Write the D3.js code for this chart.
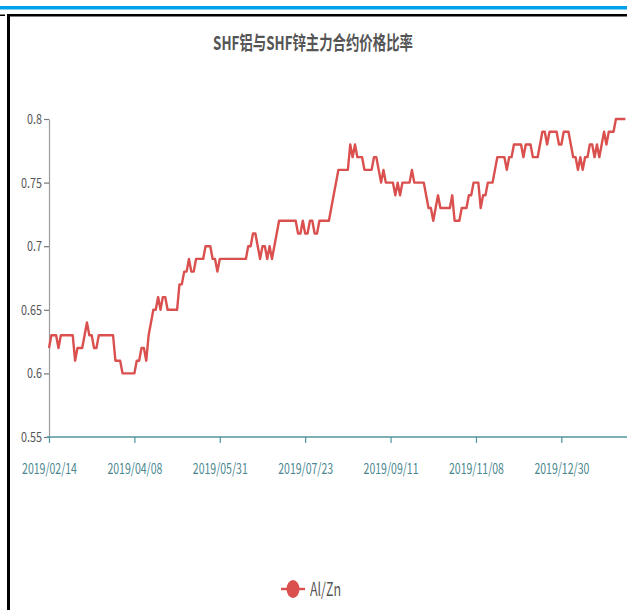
<!DOCTYPE html>
<html><head><meta charset="utf-8">
<script src="https://cdn.jsdelivr.net/npm/d3@7"></script>
<style>body{margin:0;background:#fff;} svg{display:block}</style>
</head><body>
<svg id="c" width="627" height="610"></svg>
<script>
const titleText = "SHF铝与SHF锌主力合约价格比率";
const seriesName = "Al/Zn";
const tickLabels = ["2019/02/14","2019/04/08","2019/05/31","2019/07/23","2019/09/11","2019/11/08","2019/12/30"];
const tickStep = 36;
const yTicks = [0.55,0.6,0.65,0.7,0.75,0.8];
const values = [
 0.62,0.63,0.63,0.63,0.62,0.63,0.63,0.63,0.63,0.63,
 0.63,0.61,0.62,0.62,0.62,0.63,0.64,0.63,0.63,0.62,
 0.62,0.63,0.63,0.63,0.63,0.63,0.63,0.63,0.61,0.61,
 0.61,0.60,0.60,0.60,0.60,0.60,0.60,0.61,0.61,0.62,
 0.62,0.61,0.63,0.64,0.65,0.65,0.66,0.65,0.66,0.66,
 0.65,0.65,0.65,0.65,0.65,0.67,0.67,0.68,0.68,0.69,
 0.68,0.68,0.69,0.69,0.69,0.69,0.70,0.70,0.70,0.69,
 0.69,0.68,0.69,0.69,0.69,0.69,0.69,0.69,0.69,0.69,
 0.69,0.69,0.69,0.69,0.70,0.70,0.71,0.71,0.70,0.69,
 0.70,0.70,0.69,0.70,0.69,0.70,0.71,0.72,0.72,0.72,
 0.72,0.72,0.72,0.72,0.72,0.71,0.71,0.72,0.71,0.71,
 0.72,0.72,0.71,0.71,0.72,0.72,0.72,0.72,0.72,0.73,
 0.74,0.75,0.76,0.76,0.76,0.76,0.76,0.78,0.77,0.78,
 0.77,0.77,0.77,0.76,0.76,0.76,0.76,0.77,0.77,0.76,
 0.75,0.76,0.75,0.75,0.75,0.75,0.74,0.75,0.74,0.75,
 0.75,0.75,0.75,0.76,0.75,0.75,0.75,0.75,0.75,0.74,
 0.73,0.73,0.72,0.73,0.74,0.73,0.73,0.73,0.73,0.73,
 0.74,0.72,0.72,0.72,0.73,0.73,0.73,0.74,0.74,0.75,
 0.75,0.75,0.73,0.74,0.74,0.75,0.75,0.75,0.76,0.77,
 0.77,0.77,0.77,0.76,0.77,0.77,0.78,0.78,0.78,0.78,
 0.77,0.78,0.78,0.78,0.77,0.77,0.77,0.78,0.79,0.79,
 0.78,0.79,0.79,0.79,0.79,0.78,0.78,0.79,0.79,0.79,
 0.78,0.77,0.77,0.76,0.77,0.76,0.77,0.77,0.78,0.78,
 0.77,0.78,0.77,0.78,0.79,0.78,0.79,0.79,0.79,0.80,
 0.80,0.80,0.80,0.80
];

const W = 627, H = 610;
const FONT = "'Noto Sans CJK SC','Noto Sans',sans-serif";
const svg = d3.select("#c");
svg.append("rect").attr("width", W).attr("height", H).attr("fill", "#fff");

// page frame
svg.append("rect").attr("x", 0).attr("y", 6).attr("width", W).attr("height", 3.5).attr("fill", "#00a3e8");
svg.append("rect").attr("x", 7).attr("y", 14).attr("width", W - 7).attr("height", 2.5).attr("fill", "#000");
svg.append("rect").attr("x", 7).attr("y", 14).attr("width", 3).attr("height", H - 14).attr("fill", "#000");
svg.append("rect").attr("x", 0).attr("y", 14.5).attr("width", 5).attr("height", 1.5).attr("fill", "#000");

const x = d3.scaleLinear().domain([0, values.length - 1]).range([49, 625.4]);
const y = d3.scaleLinear().domain([0.55, 0.8]).range([437, 119]);

// squeeze text horizontally so a reference string gets a target width
function squeeze(sel, targetW, refNode) {
  const nat = refNode.getComputedTextLength();
  const sx = targetW / nat;
  sel.each(function () {
    const t = d3.select(this);
    const ox = +(t.attr("x") || 0);
    t.attr("x", ox / sx).attr("transform", `scale(${sx},1)`);
  });
}

// Y axis
const yAxis = svg.append("g").attr("transform", "translate(49,0)")
  .call(d3.axisLeft(y).tickValues(yTicks).tickSize(5).tickSizeOuter(0).tickPadding(2)
    .tickFormat(d => String(+d.toFixed(2))));
yAxis.select(".domain").attr("stroke", "#9a9a9a").attr("stroke-width", 1.2);
yAxis.selectAll(".tick line").attr("stroke", "#777").attr("stroke-width", 1.2);
yAxis.selectAll(".tick text").attr("fill", "#555").attr("font-size", 14).attr("font-family", FONT);
{
  const texts = yAxis.selectAll(".tick text");
  const ref = texts.filter(d => d === 0.75).node();
  squeeze(texts, 21, ref);
}

// X axis
const xAxis = svg.append("g").attr("transform", "translate(0,437)")
  .call(d3.axisBottom(x).tickValues(tickLabels.map((_, i) => i * tickStep))
    .tickFormat((d, i) => tickLabels[i]).tickSize(6).tickSizeOuter(0).tickPadding(20));
xAxis.select(".domain").remove();
xAxis.append("line").attr("x1", 47).attr("x2", W).attr("y1", 0).attr("y2", 0)
  .attr("stroke", "#4f969e").attr("stroke-width", 1.5);
xAxis.selectAll(".tick line").attr("stroke", "#4f969e").attr("stroke-width", 1.2);
xAxis.selectAll(".tick text").attr("fill", "#4a8790").attr("font-size", 15).attr("font-family", FONT);
{
  const texts = xAxis.selectAll(".tick text");
  squeeze(texts, 55, texts.node());
}

// Line
svg.append("path").datum(values)
  .attr("fill", "none").attr("stroke", "#d9504e").attr("stroke-width", 2.4)
  .attr("stroke-linejoin", "round")
  .attr("d", d3.line().x((d, i) => x(i)).y(d => y(d)));

// Title
const title = svg.append("text").attr("x", 313).attr("y", 50).attr("text-anchor", "middle")
  .attr("font-family", FONT).attr("font-weight", "bold").attr("font-size", 19).attr("fill", "#555")
  .text(titleText);
squeeze(title, 200, title.node());

// Legend
const lg = svg.append("g");
lg.append("line").attr("x1", 281).attr("x2", 305).attr("y1", 589).attr("y2", 589)
  .attr("stroke", "#d9504e").attr("stroke-width", 2.4);
lg.append("ellipse").attr("cx", 293).attr("cy", 589).attr("rx", 6.5).attr("ry", 9).attr("fill", "#d9504e");
const lt = lg.append("text").attr("x", 310).attr("y", 596).attr("font-family", FONT)
  .attr("font-size", 18).attr("fill", "#555").text(seriesName);
squeeze(lt, 31, lt.node());
</script>
</body></html>
